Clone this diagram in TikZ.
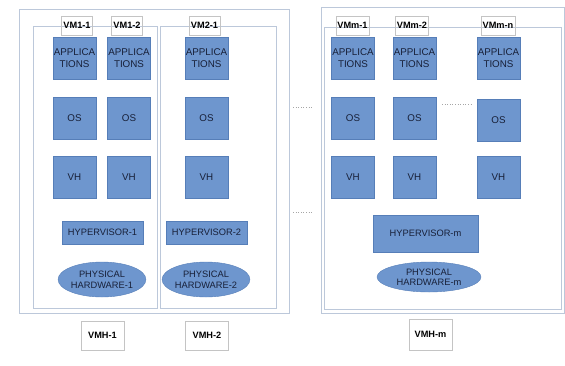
\documentclass[tikz,border=0pt]{standalone}
\usepackage{fontspec}
\setmainfont{Liberation Sans}
\usepackage{xcolor}
\usepackage{tikz}
\usetikzlibrary{shapes,positioning,calc}
\definecolor{vmblue}{RGB}{110,150,206}
\definecolor{vmedge}{RGB}{86,126,184}
\definecolor{vmtext}{RGB}{24,32,56}
\definecolor{frame}{RGB}{188,200,218}
\definecolor{tagedge}{RGB}{196,196,196}

\begin{document}
\begin{tikzpicture}[x=1pt,y=-1pt,
    layer/.style={draw=vmedge,fill=vmblue,text=vmtext,align=center,
      font=\fontsize{9.8}{11.5}\selectfont,inner sep=0pt,
      minimum width=43pt,minimum height=42pt},
    hyper/.style={layer,font=\fontsize{9.3}{11}\selectfont,
      minimum width=81pt,minimum height=23pt},
    hw/.style={ellipse,draw=vmedge,fill=vmblue,text=vmtext,align=center,
      font=\fontsize{9.3}{10.5}\selectfont,inner sep=0pt,
      minimum width=86pt,minimum height=35pt},
    tag/.style={draw=tagedge,font=\fontsize{9.2}{10}\selectfont\bfseries,
      inner sep=0pt,minimum width=31pt,minimum height=19pt},
    hosttag/.style={tag,minimum width=43pt,minimum height=29pt},
    gap/.style={draw=gray!70,dotted,line width=0.6pt}]
    \useasboundingbox (0,0) rectangle (565,365);

    % Marcos de los hosts.
    \draw[frame,line width=0.9pt] (19,9) rectangle (289,313);
    \draw[frame,line width=0.9pt] (33,26) rectangle (157,308);
    \draw[frame,line width=0.9pt] (160,26) rectangle (276,308);
    \draw[frame,line width=0.9pt] (321,7) rectangle (564,313);
    \draw[frame,line width=0.9pt] (324,27) rectangle (561,309);

    % Etiquetas de las VM.
    \node[tag] (vm11) at (77,25.5) {VM1-1};
    \node[tag] (vm12) at (127,25.5) {VM1-2};
    \node[tag] (vm21) at (204.5,25.5) {VM2-1};
    \node[tag,minimum width=33pt] (vmm1) at (352.5,25.5) {VMm-1};
    \node[tag,minimum width=33pt] (vmm2) at (412,25.5) {VMm-2};
    \node[tag,minimum width=34pt] (vmmn) at (498,25.5) {VMm-n};

    % Capas de cada VM: aplicaciones, OS y VH.
    \foreach \nm/\xx/\yo in {11/74.5/0,12/129/0,21/206.5/0,m1/353/0,m2/414.5/0,mn/498.5/2}{
      \node[layer] (app\nm) at (\xx,58) {APPLICA\\TIONS};
      \pgfmathsetmacro{\yy}{118+\yo}
      \node[layer] (os\nm) at (\xx,\yy) {OS};
      \node[layer] (vh\nm) at (\xx,177.5) {VH};
    }

    % Hipervisores.
    \node[hyper] (hyp1) at (102.5,232.5) {HYPERVISOR-1};
    \node[hyper] (hyp2) at (206.5,232.5) {HYPERVISOR-2};
    \node[hyper,minimum width=105pt,minimum height=37pt] (hypm) at (425.5,233.5) {HYPERVISOR-m};

    % Hardware físico.
    \node[hw] (hw1) at (102,279.5) {PHYSICAL\\HARDWARE-1};
    \node[hw] (hw2) at (206,279.5) {PHYSICAL\\HARDWARE-2};
    \node[hw,minimum width=104pt,minimum height=30pt] (hwm) at (429,277) {PHYSICAL\\HARDWARE-m};

    % Nombres de los hosts.
    \node[hosttag] (vmh1) at (102.5,335.5) {VMH-1};
    \node[hosttag] (vmh2) at (207,335.5) {VMH-2};
    \node[hosttag,minimum height=31pt] (vmhm) at (430.5,334.5) {VMH-m};

    % Puntos suspensivos.
    \draw[gap] (293,107) -- (312,107);
    \draw[gap] (293,212) -- (312,212);
    \draw[gap] (442,104) -- (472,104);
  \end{tikzpicture}
\end{document}
